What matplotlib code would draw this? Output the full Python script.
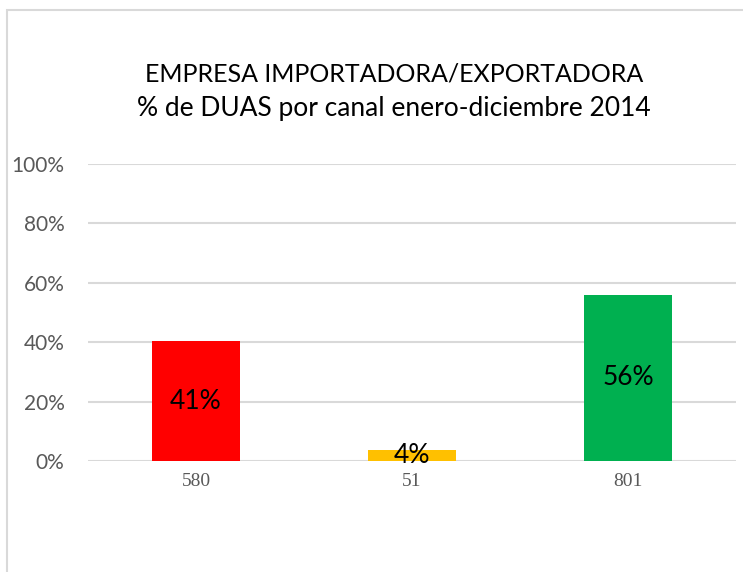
import matplotlib
matplotlib.use("Agg")
import matplotlib.pyplot as plt
from matplotlib.patches import Rectangle

categories = ["580", "51", "801"]
values = [0.404, 0.037, 0.559]
value_labels = ["41%", "4%", "56%"]
colors = ["#FF0000", "#FFC000", "#00B050"]
yticks = [0, 0.2, 0.4, 0.6, 0.8, 1.0]
ytick_labels = ["0%", "20%", "40%", "60%", "80%", "100%"]
title_lines = ["EMPRESA IMPORTADORA/EXPORTADORA", "% de DUAS por canal enero-diciembre 2014"]

W, H = 743, 572
fig = plt.figure(figsize=(W / 100, H / 100), dpi=100)
fig.patch.set_facecolor("white")

# outer chart frame (extends past right/bottom edges)
fig.patches.append(Rectangle((7 / W, -0.1), 1.2, 1 - 10 / H + 0.1,
                             transform=fig.transFigure, fill=False,
                             edgecolor="#d9d9d9", linewidth=1.5, zorder=0))

ax = fig.add_axes([88 / W, 1 - 461 / H, (736 - 88) / W, (461 - 164) / H])
x = list(range(len(categories)))
bars = ax.bar(x, values, width=0.403, color=colors, zorder=3)
ax.bar_label(bars, labels=value_labels, label_type="center",
             fontsize=19, family="Lato", color="black")

ax.set_xlim(-0.5, 2.5)
ax.set_ylim(0, 1.0)
ax.set_yticks(yticks)
ax.set_yticklabels(ytick_labels, family="Lato", fontsize=15, color="#595959")
ax.set_xticks(x)
ax.set_xticklabels(categories, family="Liberation Serif", fontsize=14, color="#595959")
ax.tick_params(axis="both", length=0)
ax.tick_params(axis="y", pad=17)
ax.tick_params(axis="x", pad=9)
ax.grid(axis="y", color="#d9d9d9", linewidth=1.5, zorder=0)
for s in ax.spines.values():
    s.set_visible(False)

fig.text(394 / W, 1 - 81 / H, title_lines[0], ha="center", va="baseline",
         family="Lato", fontsize=18, color="black")
fig.text(394 / W, 1 - 116 / H, title_lines[1], ha="center", va="baseline",
         family="Lato", fontsize=19, color="black")

fig.savefig("out.png", dpi=100)
